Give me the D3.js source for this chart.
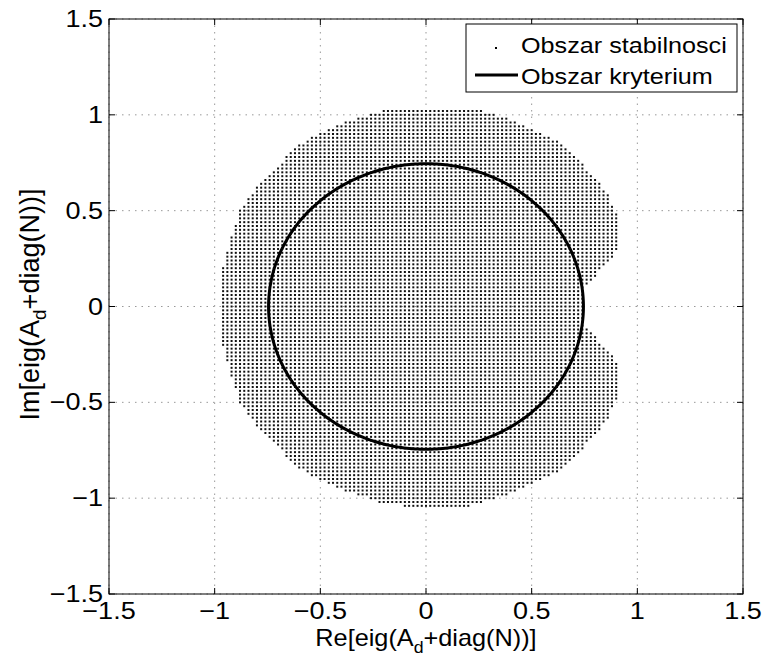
<!DOCTYPE html>
<html><head><meta charset="utf-8">
<script src="https://cdn.jsdelivr.net/npm/d3@7"></script>
<style>body{margin:0;background:#fff}</style>
</head><body>
<script>
// ---- data ----
const tickValues = [-1.5, -1, -0.5, 0, 0.5, 1, 1.5];
const tickLabels = ["\u22121.5", "\u22121", "\u22120.5", "0", "0.5", "1", "1.5"];
// upper-half outline of the stability region, mirrored for lower half
const outlineX = [-0.978, -0.972, -0.925, -0.88, -0.80, -0.705, -0.61, -0.505, -0.415, -0.22, -0.115, 0.21, 0.295, 0.405, 0.505, 0.615, 0.71, 0.805, 0.86, 0.90, 0.915, 0.915, 0.885, 0.82, 0.755, 0.745];
const outlineY = [0, 0.15, 0.35, 0.50, 0.625, 0.73, 0.84, 0.905, 0.95, 1.02, 1.04, 1.04, 1.01, 0.975, 0.925, 0.865, 0.775, 0.67, 0.585, 0.495, 0.39, 0.335, 0.255, 0.18, 0.11, 0];
const gridStep = 0.02;
const gridRange = [-1.1, 1.1];
const criterionRadius = 0.745;
const legendLabels = ["Obszar stabilnosci", "Obszar kryterium"];
const xLabel = ["Re[eig(A", "d", "+diag(N))]"];
const yLabel = ["Im[eig(A", "d", "+diag(N))]"];

// ---- layout ----
const W = 763, H = 660;
const plot = {left: 109, right: 743, top: 19, bottom: 594};
const FONT = "'Liberation Sans', Arial, Helvetica, sans-serif";

const x = d3.scaleLinear().domain([-1.5, 1.5]).range([plot.left, plot.right]);
const y = d3.scaleLinear().domain([-1.5, 1.5]).range([plot.bottom, plot.top]);

const svg = d3.select("body").append("svg").attr("width", W).attr("height", H)
  .style("font-family", FONT);
svg.append("rect").attr("width", W).attr("height", H).attr("fill", "#fff");

// grid
const g = svg.append("g");
tickValues.forEach(v => {
  g.append("line").attr("x1", x(v)).attr("x2", x(v)).attr("y1", plot.top).attr("y2", plot.bottom)
    .attr("stroke", "#999").attr("stroke-width", 1).attr("stroke-dasharray", "1.5,5");
  g.append("line").attr("y1", y(v)).attr("y2", y(v)).attr("x1", plot.left).attr("x2", plot.right)
    .attr("stroke", "#999").attr("stroke-width", 1).attr("stroke-dasharray", "1.5,5");
});

// stability region dots
const upper = outlineX.map((d, i) => [d, outlineY[i]]);
const lower = upper.slice().reverse().map(p => [p[0], -p[1]]);
const poly = upper.concat(lower);
const gridVals = d3.range(Math.round(gridRange[0] / gridStep), Math.round(gridRange[1] / gridStep) + 1).map(k => k * gridStep);
const pts = [];
gridVals.forEach(py => gridVals.forEach(px => { if (d3.polygonContains(poly, [px, py])) pts.push([px, py]); }));
svg.append("g").selectAll("rect").data(pts).join("rect")
  .attr("x", d => x(d[0]) - 1).attr("y", d => y(d[1]) - 1)
  .attr("width", 2).attr("height", 2).attr("fill", "#111");

// criterion circle
const angles = d3.range(0, 361, 1).map(a => a * Math.PI / 180);
svg.append("path").datum(angles)
  .attr("d", d3.line().x(t => x(criterionRadius * Math.cos(t))).y(t => y(criterionRadius * Math.sin(t))))
  .attr("fill", "none").attr("stroke", "#000").attr("stroke-width", 3);

// axes box + ticks
svg.append("rect").attr("x", plot.left).attr("y", plot.top)
  .attr("width", plot.right - plot.left).attr("height", plot.bottom - plot.top)
  .attr("fill", "none").attr("stroke", "#000").attr("stroke-width", 1);
const TL = 6;
tickValues.forEach(v => {
  svg.append("line").attr("x1", x(v)).attr("x2", x(v)).attr("y1", plot.bottom).attr("y2", plot.bottom - TL).attr("stroke", "#000");
  svg.append("line").attr("x1", x(v)).attr("x2", x(v)).attr("y1", plot.top).attr("y2", plot.top + TL).attr("stroke", "#000");
  svg.append("line").attr("y1", y(v)).attr("y2", y(v)).attr("x1", plot.left).attr("x2", plot.left + TL).attr("stroke", "#000");
  svg.append("line").attr("y1", y(v)).attr("y2", y(v)).attr("x1", plot.right).attr("x2", plot.right - TL).attr("stroke", "#000");
});

function stext(px, py, str, anchor, size, sx) {
  const gg = svg.append("g").attr("transform", `translate(${px},${py}) scale(${sx},1)`);
  return gg.append("text").attr("text-anchor", anchor).attr("font-size", size).attr("fill", "#000").text(str);
}
const TFS = 23.5, TSX = 1.15;
tickValues.forEach((v, i) => {
  stext(x(v), 619, tickLabels[i], "middle", TFS, TSX);
  stext(103, y(v) + 8, tickLabels[i], "end", TFS, TSX);
});

// x label
{
  const gg = svg.append("g").attr("transform", `translate(${x(0)},646) scale(1.1,1)`);
  const t = gg.append("text").attr("text-anchor", "middle").attr("font-size", 23);
  t.append("tspan").text(xLabel[0]);
  t.append("tspan").attr("dy", 7).attr("font-size", 23 * 0.7).text(xLabel[1]);
  t.append("tspan").attr("dy", -7).text(xLabel[2]);
}
// y label
{
  const gg = svg.append("g").attr("transform", `translate(39,${y(0) - 2}) rotate(-90)`);
  const t = gg.append("text").attr("text-anchor", "middle").attr("font-size", 27);
  t.append("tspan").text(yLabel[0]);
  t.append("tspan").attr("dy", 7).attr("font-size", 27 * 0.7).text(yLabel[1]);
  t.append("tspan").attr("dy", -7).text(yLabel[2]);
}

// legend
const lg = svg.append("g");
lg.append("rect").attr("x", 466).attr("y", 24).attr("width", 271).attr("height", 68)
  .attr("fill", "#fff").attr("stroke", "#000").attr("stroke-width", 1);
lg.append("rect").attr("x", 495).attr("y", 47).attr("width", 2).attr("height", 2).attr("fill", "#000");
lg.append("line").attr("x1", 475).attr("x2", 518).attr("y1", 75).attr("y2", 75).attr("stroke", "#000").attr("stroke-width", 3);
stext(521, 53, legendLabels[0], "start", 22.5, 1.12);
stext(521, 84, legendLabels[1], "start", 22.5, 1.12);
</script>
</body></html>
